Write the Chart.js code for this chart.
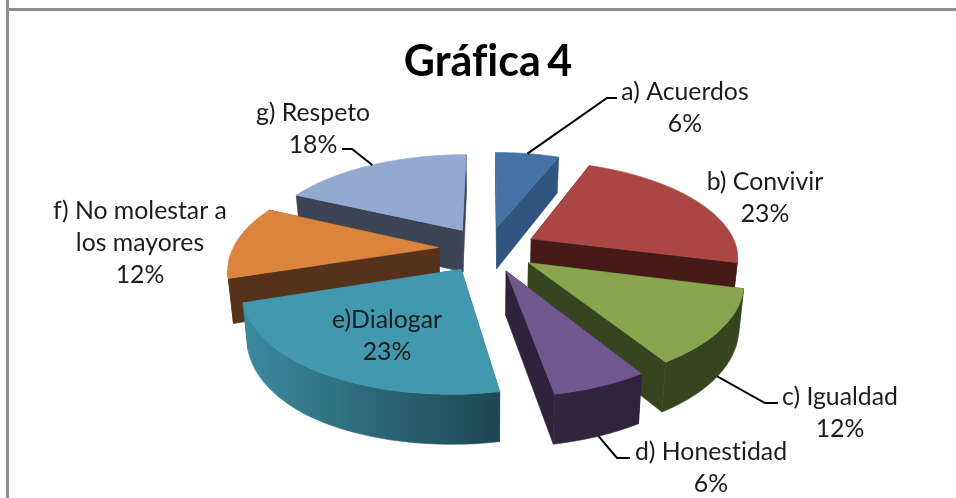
<!DOCTYPE html>
<html><head><meta charset="utf-8">
<style>
html,body{margin:0;padding:0;background:#fff;width:956px;height:498px;overflow:hidden}
#wrap{position:absolute;left:0;top:0;width:956px;height:498px}
.v{position:absolute;left:6px;top:0;width:3px;height:498px;background:#8e8e8e}
.h{position:absolute;left:6px;top:8px;width:950px;height:3px;background:#8e8e8e}
canvas{position:absolute;left:0;top:0}
</style>
<script src="https://cdn.jsdelivr.net/npm/chart.js@4"></script>
</head><body>
<div class="v"></div><div class="h"></div>
<div id="wrap"><canvas id="c" width="956" height="498"></canvas></div>
<script>
const titleText = 'Gráfica 4';
const categories = ['a) Acuerdos','b) Convivir','c) Igualdad','d) Honestidad','e)Dialogar',['f) No molestar a','los mayores'],'g) Respeto'];
const values = [6,23,12,6,23,12,18];
const topColors = ['#4573A7','#AA4644','#89A54E','#71588F','#4298AF','#DB843D','#93A9CF'];
const sideColors = ['#2F5580','#451A17','#36451F','#2E223C','#2A6473','#57321A','#3B4354'];
const wallLeft = ['#2F5580','#451A17','#36451F','#32263F','#3C8A9E','#57321A','#3B4354'];
const wallRight = ['#2F5580','#451A17','#36451F','#2E223C','#1D4753','#57321A','#3B4354'];

// Projection of the pie's plane
const view = {cx:488, cy:249, rx:206, ry:95, persp:0.175, explode:0.24, depth:43, depthGrow:7, taper:0.02, skew:3.5};
// Label placement: text centre, first line middle, and optional leader elbow
const labelPos = [
  {x:685,y:92,leader:[[607,98],[617,98]],from:'top'},
  {x:765,y:182},
  {x:840,y:397,leader:[[765,403],[778,403]],from:'bottom'},
  {x:711,y:452,leader:[[617,458],[630,458]],from:'bottom'},
  {x:387,y:320},
  {x:140,y:211},
  {x:313,y:113,leader:[[352,149],[342,149]],from:'top'}
];
const lineGap = 32;
const fontFamily = 'Lato, Carlito, sans-serif';

function project(t, r, tm){
  const X = view.explode*Math.sin(tm) + r*Math.sin(t);
  const Y = -(view.explode*Math.cos(tm) + r*Math.cos(t));
  const s = 1/(1 - view.persp*Y);
  return {x:view.cx + view.rx*X*s - view.skew*Math.max(0,Y)*s, y:view.cy + view.ry*Y*s, d:view.depth + view.depthGrow*Math.max(-1,Math.min(1,Y))};
}
function poly(ctx, pts, fill){
  ctx.beginPath();
  pts.forEach((p,i)=> i?ctx.lineTo(p.x,p.y):ctx.moveTo(p.x,p.y));
  ctx.closePath();
  ctx.fillStyle = fill; ctx.fill();
  ctx.strokeStyle = fill; ctx.lineWidth = .6; ctx.stroke();
}
function down(p){ return {x:p.x-(p.x-view.cx)*view.taper, y:p.y+p.d}; }

const pie3d = {
  id:'pie3d',
  beforeDraw(chart){
    chart.ctx.textRendering = 'optimizeSpeed';
    chart.ctx.wordSpacing = '-4px';
  },
  beforeDatasetDraw(chart, args){
    const ctx = chart.ctx;
    const arcs = chart.getDatasetMeta(args.index).data;
    const items = arcs.map((arc,i)=>{
      const a0 = arc.startAngle + Math.PI/2, a1 = arc.endAngle + Math.PI/2;
      return {i, a0, a1, tm:(a0+a1)/2};
    }).sort((p,q)=>Math.cos(q.tm)-Math.cos(p.tm));
    ctx.save();
    items.forEach(({i,a0,a1,tm})=>{
      const n = 60, rim = [];
      for(let k=0;k<=n;k++){ const t=a0+(a1-a0)*k/n; rim.push(project(t,1,tm)); }
      const apex = project(tm,0,tm);
      // radial cut faces
      poly(ctx,[apex,rim[0],down(rim[0]),down(apex)],sideColors[i]);
      poly(ctx,[apex,rim[n],down(rim[n]),down(apex)],sideColors[i]);
      // outer wall, only the part that faces the viewer
      const front = rim.filter((p,k)=> (k<n && rim[k+1].x<p.x) || (k>0 && p.x<rim[k-1].x));
      if(front.length>1){
        const xs = front.map(p=>p.x), lo=Math.min(...xs), hi=Math.max(...xs);
        const g = ctx.createLinearGradient(lo,0,hi,0);
        g.addColorStop(0,wallLeft[i]); g.addColorStop(1,wallRight[i]);
        poly(ctx,[...front,...front.slice().reverse().map(down)],g);
      }
      // top face
      poly(ctx,[apex,...rim],topColors[i]);
    });
    ctx.restore();
    return false;
  },
  afterDatasetsDraw(chart){
    const ctx = chart.ctx;
    const arcs = chart.getDatasetMeta(0).data;
    const total = values.reduce((a,b)=>a+b,0);
    ctx.save();
    ctx.wordSpacing = '0px';
    ctx.font = '24.8px '+fontFamily;
    ctx.textAlign = 'center';
    ctx.textBaseline = 'middle';
    arcs.forEach((arc,i)=>{
      const a0 = arc.startAngle + Math.PI/2, a1 = arc.endAngle + Math.PI/2, tm=(a0+a1)/2;
      const pos = labelPos[i];
      if(pos.leader){
        const p = project(tm,1,tm);
        const start = pos.from==='bottom' ? down(p) : p;
        ctx.beginPath(); ctx.moveTo(start.x,start.y);
        pos.leader.forEach(q=>ctx.lineTo(q[0],q[1]));
        ctx.strokeStyle='#000'; ctx.lineWidth=2; ctx.stroke();
      }
      const lines = [].concat(categories[i], Math.round(values[i]/total*100)+'%');
      ctx.fillStyle = '#1c1c1c';
      lines.forEach((t,j)=>ctx.fillText(t,pos.x,pos.y+j*lineGap));
    });
    ctx.restore();
  }
};

new Chart(document.getElementById('c'),{
  type:'pie',
  data:{labels:categories,datasets:[{data:values,backgroundColor:topColors,borderWidth:0}]},
  options:{
    responsive:false,animation:false,
    layout:{padding:{left:20}},
    plugins:{
      legend:{display:false},tooltip:{enabled:false},
      title:{display:true,text:titleText,color:'#000',
        font:{family:fontFamily,size:43,weight:'bold'},
        padding:{top:36,bottom:10}}
    }
  },
  plugins:[pie3d]
});
</script>
</body></html>
